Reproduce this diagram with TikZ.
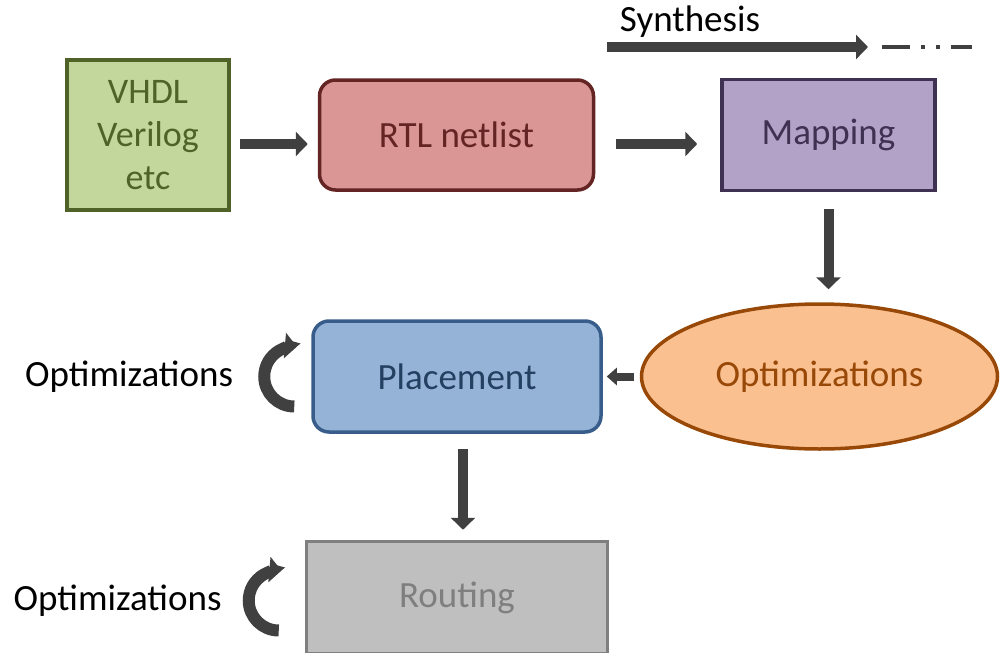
\documentclass[tikz,border=0pt]{standalone}
\usepackage{fontspec}
\setmainfont{Carlito}
\usetikzlibrary{arrows.meta,positioning,shapes.geometric}

\definecolor{vhdlfill}{HTML}{C3D69B}
\definecolor{vhdlline}{HTML}{4F6228}
\definecolor{rtlfill}{HTML}{D99694}
\definecolor{rtlline}{HTML}{632423}
\definecolor{mapfill}{HTML}{B2A2C7}
\definecolor{mapline}{HTML}{3F3151}
\definecolor{optfill}{HTML}{FAC090}
\definecolor{optline}{HTML}{984807}
\definecolor{placefill}{HTML}{95B3D7}
\definecolor{placeline}{HTML}{385D8A}
\definecolor{placetext}{HTML}{244061}
\definecolor{routefill}{HTML}{BFBFBF}
\definecolor{routeline}{HTML}{7F7F7F}
\definecolor{arrowgray}{HTML}{404040}

\begin{document}
\begin{tikzpicture}[x=1pt,y=-1pt,>={Triangle[width=24pt,length=12pt]},
	box/.style={draw,line width=3.5pt,inner sep=0pt,align=center,font=\fontsize{37}{43}\selectfont},
	flow/.style={->,draw=arrowgray,line width=10pt},
	curl/.style={->,draw=arrowgray,line width=12pt,>={Triangle[width=25pt,length=12pt]}},
	lbl/.style={inner sep=0pt,font=\fontsize{37}{43}\selectfont}]

\useasboundingbox (0,0) rectangle (1002,653);

\node[box,fill=vhdlfill,draw=vhdlline,text=vhdlline,minimum width=162pt,minimum height=150pt,font=\fontsize{36}{43}\selectfont] (vhdl) at (148,135) {VHDL\\Verilog\\etc};
\node[box,fill=rtlfill,draw=rtlline,text=rtlline,rounded corners=16pt,minimum width=274pt,minimum height=110pt] (rtl) [right=87pt of vhdl] {RTL netlist};
	\node[box,fill=mapfill,draw=mapline,text=mapline,minimum width=213pt,minimum height=111pt] (mapping) [right=125pt of rtl] {Mapping};
\node[box,ellipse,fill=optfill,draw=optline,text=optline,minimum width=356pt,minimum height=145pt] (opt) [below=110pt of mapping,xshift=-9pt] {Optimizations};
 \node[box,fill=placefill,draw=placeline,text=placetext,rounded corners=16pt,minimum width=288pt,minimum height=111pt] (place) [left=37pt of opt] {Placement};
\node[box,fill=routefill,draw=routeline,text=routeline,minimum width=301pt,minimum height=112pt] (route) [below=106pt of place] {Routing};

\node[lbl] (synth) at (690,22) {Synthesis};
\coordinate (synA) at (607,47);
\coordinate (synB) at (868,47);
\coordinate (synC) at (882,47);
\coordinate (synD) at (972,47);

\coordinate (curlA) at ([xshift=-17pt]place.west);
\coordinate (curlB) at ([xshift=-26pt,yshift=-3pt]route.west);
\node[lbl] (optA) [left=61pt of curlA] {Optimizations};
\node[lbl] (optB) [left=57pt of curlB] {Optimizations};

\path ([yshift=-9pt]vhdl.east) edge[flow,shorten <=9pt,shorten >=10pt] ([yshift=-9pt]rtl.west)
		([yshift=-9pt]rtl.east) edge[flow,shorten <=21pt,shorten >=23pt] ([yshift=-9pt]mapping.west)
	(mapping.south) edge[flow,shorten <=17pt,shorten >=13pt] (mapping.south |- opt.north)
		(opt.west) edge[flow,line width=8pt,>={Triangle[width=17pt,length=10pt]},shorten <=6pt,shorten >=4pt] (opt.west -| place.east)
	([xshift=6pt]place.south) edge[flow,shorten <=15pt,shorten >=10pt] ([xshift=6pt]route.north);

\draw[flow] (synA) -- (synB);
\draw[arrowgray,line width=3.5pt,dash pattern=on 28pt off 11pt on 4pt off 11pt on 4pt off 11pt on 30pt] (synC) -- (synD);

\draw[curl] (curlA) ++(0,30) arc (90:275:30);
\draw[curl] (curlB) ++(0,30) arc (90:275:30);

\end{tikzpicture}
\end{document}
